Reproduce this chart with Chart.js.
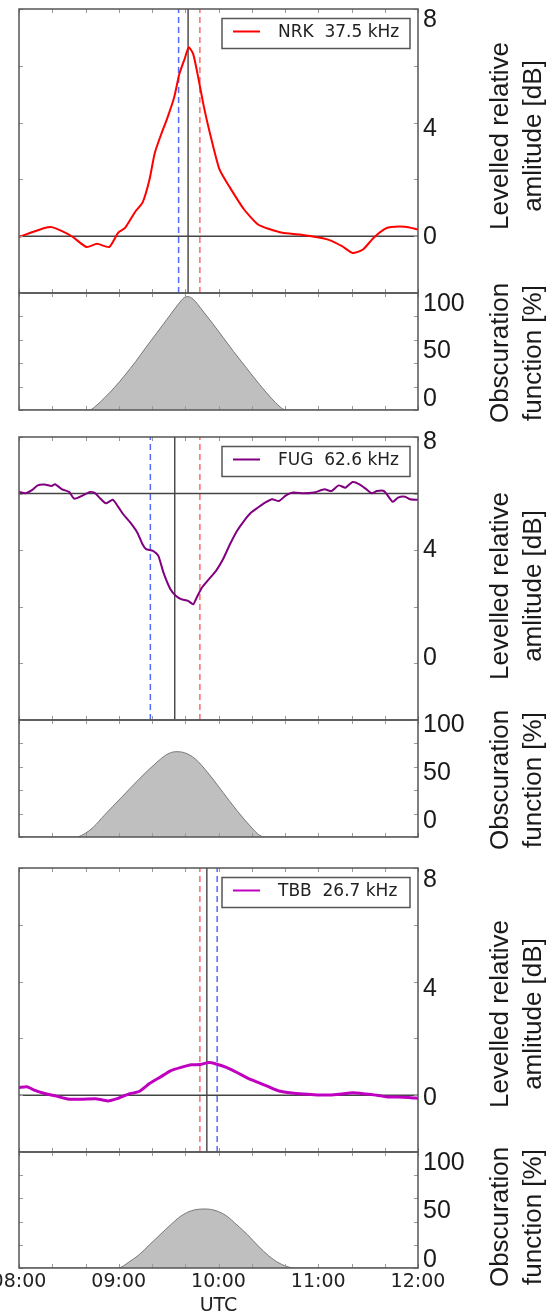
<!DOCTYPE html>
<html>
<head>
<meta charset="utf-8">
<script src="https://cdn.jsdelivr.net/npm/chart.js"></script>
<style>
  html, body { margin: 0; padding: 0; background: #fff; }
  body { width: 548px; height: 1316px; position: relative; overflow: hidden; }
  canvas { position: absolute; }
</style>
</head>
<body>
<script>
// minutes after 08:00 UTC, levelled amplitude in dB
const nrkTime = [0, 6.9, 15.4, 19.6, 25.9, 32.2, 40.6, 46.9, 54.3, 59.6, 63.8, 70.1, 74.3, 78.5, 81.7, 85.9, 89.0, 93.3, 96.4, 99.6, 102.1, 104.8, 108.0, 111.1, 114.3, 120.6, 126.9, 135.4, 143.8, 150.1, 158.5, 169.0, 177.5, 185.9, 194.3, 200.6, 206.9, 213.2, 219.6, 223.8, 232.2, 240];
const nrkAmp = [-0.03, 0.12, 0.29, 0.32, 0.18, -0.02, -0.38, -0.27, -0.38, 0.12, 0.29, 0.88, 1.18, 2.0, 2.94, 3.65, 4.12, 4.88, 5.7, 6.24, 6.65, 6.41, 5.53, 4.59, 3.76, 2.35, 1.71, 0.94, 0.41, 0.26, 0.12, 0.06, -0.02, -0.12, -0.35, -0.59, -0.47, -0.06, 0.24, 0.32, 0.33, 0.24];

const fugTime = [0, 3.8, 8.0, 11.2, 15.4, 19.6, 21.7, 25.9, 30.1, 33.3, 38.5, 42.7, 45.9, 49.0, 52.2, 56.4, 59.6, 62.7, 66.9, 71.2, 74.3, 76.4, 80.6, 83.8, 86.9, 91.1, 94.3, 97.5, 101.7, 104.8, 106.9, 110.1, 114.3, 118.5, 122.7, 126.9, 131.1, 135.4, 139.6, 143.8, 148.0, 152.2, 156.4, 160.6, 164.8, 171.1, 177.5, 183.8, 188.0, 192.2, 196.4, 200.6, 204.8, 209.0, 212.2, 215.3, 219.6, 224.8, 228.0, 232.2, 235.3, 240];
const fugAmp = [6.06, 6.01, 6.13, 6.29, 6.32, 6.27, 6.33, 6.15, 6.06, 5.82, 5.94, 6.06, 6.01, 5.82, 5.66, 5.78, 5.54, 5.27, 4.98, 4.62, 4.21, 4.04, 3.98, 3.80, 3.21, 2.62, 2.39, 2.27, 2.21, 2.09, 2.33, 2.68, 2.98, 3.27, 3.68, 4.21, 4.68, 5.04, 5.33, 5.51, 5.68, 5.80, 5.74, 5.94, 6.04, 6.01, 6.04, 6.15, 6.09, 6.29, 6.21, 6.41, 6.33, 6.15, 6.01, 6.09, 6.09, 5.71, 5.86, 5.89, 5.80, 5.78];

const tbbTime = [0, 4.8, 9.1, 15.4, 21.7, 30.1, 38.5, 46.9, 53.3, 59.6, 65.9, 72.2, 78.5, 84.8, 91.1, 97.5, 103.8, 109.0, 114.3, 118.5, 124.8, 131.1, 137.5, 143.8, 150.1, 156.4, 162.7, 171.1, 179.6, 188.0, 194.3, 200.6, 209.0, 215.3, 221.7, 228.0, 234.3, 240];
const tbbAmp = [0.27, 0.30, 0.18, 0.06, -0.02, -0.14, -0.14, -0.13, -0.20, -0.11, 0.04, 0.13, 0.41, 0.63, 0.86, 0.98, 1.07, 1.08, 1.15, 1.10, 0.98, 0.80, 0.60, 0.45, 0.30, 0.15, 0.09, 0.04, 0.01, 0.01, 0.04, 0.09, 0.04, 0.00, -0.06, -0.06, -0.08, -0.11];

// obscuration function [%]
const obsNrkTime = [0, 42.3, 46.9, 51.2, 57.5, 63.8, 70.1, 76.4, 82.7, 89.0, 95.4, 99.6, 101.7, 104.8, 110.1, 116.4, 122.7, 129.1, 135.4, 141.7, 148.0, 154.3, 158.5, 160.6, 240];
const obsNrkVal = [0, 0, 4.3, 10, 19.4, 29.9, 41.3, 53.6, 65.5, 77.5, 89.7, 96.3, 96.9, 94.6, 85.5, 74.1, 62.1, 49.9, 38.5, 27.1, 16.2, 6.3, 1.1, 0, 0];
const obsFugTime = [0, 34.3, 38.5, 44.8, 51.2, 61.7, 72.2, 82.7, 89.0, 94.3, 99.6, 105.9, 114.3, 122.7, 131.1, 139.6, 144.8, 148.0, 240];
const obsFugVal = [0, 0, 2, 8.5, 18.4, 33.9, 49.4, 63.6, 70.6, 72.9, 72.0, 66.9, 53.7, 38.1, 22.6, 8.5, 1.4, 0, 0];
const obsTbbTime = [0, 59.6, 65.9, 72.2, 78.5, 84.8, 91.1, 97.5, 103.8, 111.8, 118.5, 124.8, 131.1, 137.5, 143.8, 150.1, 156.4, 162.7, 165.9, 240];
const obsTbbVal = [0, 0, 4.9, 11.4, 20, 28.6, 37.1, 44.9, 49.4, 50.9, 49.4, 44.9, 37.1, 28.6, 19.1, 10.6, 4.3, 0.6, 0, 0];

// marker times [blue dashed, black, red dashed]
const nrkMarkers = [96.0, 101.7, 108.8];
const fugMarkers = [79.0, 93.7, 108.8];
const tbbMarkers = [119.2, 113.0, 108.8];
const refLevels = [0, 6, 0];

const ampRange = [-2, 8];
const ampTicks = [-2, 0, 2, 4, 6, 8];
const ampLabels = [0, 4, 8];
const obsTicks = [0, 20, 40, 60, 80, 100];
const obsLabels = [0, 50, 100];
const timeTicks = [0, 20, 40, 60, 80, 100, 120, 140, 160, 180, 200, 220, 240];
const timeLabels = ['08:00', '09:00', '10:00', '11:00', '12:00'];

const SHIFT = 30;     // canvases start left of the page so "08:00" is cut like the original
const CANVAS_W = 578;
const PAD = 24;
const PLOT_LEFT = 19;
const PLOT_RIGHT = 418;
const AXIS_W = CANVAS_W - SHIFT - PLOT_RIGHT;

const groups = [
  { label: 'NRK  37.5 kHz', color: '#ff0000', width: 2, time: nrkTime, amp: nrkAmp, markers: nrkMarkers, ref: refLevels[0],
    obsTime: obsNrkTime, obsVal: obsNrkVal, ampBox: [9, 293], obsBox: [293, 410],
    ampLabelRange: [-2.04, 8.40], obsLabelRange: [-11.6, 111.6], ampTitleY: 136, obsTitleY: 353 },
  { label: 'FUG  62.6 kHz', color: '#800080', width: 2, time: fugTime, amp: fugAmp, markers: fugMarkers, ref: refLevels[1],
    obsTime: obsFugTime, obsVal: obsFugVal, ampBox: [437, 720], obsBox: [720, 837],
    ampLabelRange: [-2.3, 8.19], obsLabelRange: [-16.7, 105.2], ampTitleY: 586, obsTitleY: 780 },
  { label: 'TBB  26.7 kHz', color: '#c000c0', width: 3, time: tbbTime, amp: tbbAmp, markers: tbbMarkers, ref: refLevels[2],
    obsTime: obsTbbTime, obsVal: obsTbbVal, ampBox: [868, 1152], obsBox: [1152, 1268],
    ampLabelRange: [-1.98, 8.44], obsLabelRange: [-8.2, 111.3], ampTitleY: 1014, obsTitleY: 1217 }
];

function pairs(xs, ys) {
  return xs.map((x, i) => ({ x: x, y: ys[i] }));
}

function vline(t, color, dash, width) {
  return { data: [{ x: t, y: ampRange[0] }, { x: t, y: ampRange[1] }],
    borderColor: color, borderDash: dash, borderWidth: width, pointRadius: 0 };
}

function makeCanvas(top, height) {
  const c = document.createElement('canvas');
  c.width = CANVAS_W;
  c.height = height;
  c.style.left = -SHIFT + 'px';
  c.style.top = top + 'px';
  c.style.width = CANVAS_W + 'px';
  c.style.height = height + 'px';
  document.body.appendChild(c);
  return c;
}

// frame, inward ticks, boxed legend and the rotated side title
const framePlugin = {
  id: 'frame',
  afterDatasetsDraw(chart, args, opts) {
    const { ctx, chartArea: a, scales } = chart;
    ctx.save();
    ctx.strokeStyle = '#999';
    ctx.lineWidth = 1;
    ctx.beginPath();
    timeTicks.forEach(v => {
      const x = Math.round(scales.x.getPixelForValue(v)) + 0.5;
      ctx.moveTo(x, a.top); ctx.lineTo(x, a.top + 4);
      ctx.moveTo(x, a.bottom); ctx.lineTo(x, a.bottom - 4);
    });
    opts.yTicks.forEach(v => {
      const y = Math.round(scales.y.getPixelForValue(v)) + 0.5;
      ctx.moveTo(a.left, y); ctx.lineTo(a.left + 4, y);
      ctx.moveTo(a.right, y); ctx.lineTo(a.right - 4, y);
    });
    ctx.stroke();
    ctx.strokeStyle = '#555';
    ctx.lineWidth = 1.5;
    ctx.strokeRect(a.left, a.top, a.right - a.left, a.bottom - a.top);

    if (opts.legend) {
      const ds = chart.data.datasets[0];
      const x0 = a.right - 196, y0 = a.top + 9.5;
      ctx.fillStyle = '#fff';
      ctx.fillRect(x0, y0, 188, 30);
      ctx.strokeStyle = '#555';
      ctx.strokeRect(x0, y0, 188, 30);
      ctx.strokeStyle = ds.borderColor;
      ctx.lineWidth = 2;
      ctx.beginPath();
      ctx.moveTo(x0 + 11, y0 + 13); ctx.lineTo(x0 + 38, y0 + 13);
      ctx.stroke();
      ctx.fillStyle = '#222';
      ctx.font = '17px "DejaVu Sans"';
      ctx.textAlign = 'left';
      ctx.textBaseline = 'middle';
      ctx.fillText(ds.label, x0 + 56, y0 + 14);
    }

    ctx.fillStyle = '#1a1a1a';
    ctx.font = '26px "Liberation Sans"';
    ctx.textAlign = 'center';
    ctx.textBaseline = 'middle';
    opts.title.forEach((line, i) => {
      ctx.save();
      ctx.translate(501 + 33 * i + SHIFT, opts.titleY - opts.canvasTop);
      ctx.rotate(-Math.PI / 2);
      ctx.fillText(line, 0, 0);
      ctx.restore();
    });
    ctx.restore();
  }
};

function labelAxis(range, labels) {
  return {
    position: 'right',
    min: range[0],
    max: range[1],
    afterBuildTicks: s => { s.ticks = labels.map(v => ({ value: v })); },
    afterFit: s => { s.width = AXIS_W; },
    grid: { display: false, drawTicks: false },
    border: { display: false },
    ticks: { padding: 5, color: '#1a1a1a', font: { family: 'Liberation Sans', size: 25 } }
  };
}

function ampChart(g) {
  const top = g.ampBox[0] - PAD;
  const canvas = makeCanvas(top, g.ampBox[1] - g.ampBox[0] + 2 * PAD);
  return new Chart(canvas, {
    type: 'line',
    data: {
      datasets: [
        { label: g.label, data: pairs(g.time, g.amp), borderColor: g.color, borderWidth: g.width,
          tension: 0.2, pointRadius: 0 },
        { data: [{ x: 0, y: g.ref }, { x: 240, y: g.ref }], borderColor: '#444', borderWidth: 1.5, pointRadius: 0 },
        vline(g.markers[1], '#222', [], 1.2),
        vline(g.markers[0], 'rgba(50,80,255,0.85)', [6, 4], 1.5),
        vline(g.markers[2], 'rgba(255,80,80,0.85)', [6, 4], 1.5)
      ]
    },
    options: {
      responsive: false,
      animation: false,
      layout: { padding: { left: PLOT_LEFT + SHIFT, right: 0, top: PAD, bottom: PAD } },
      plugins: {
        legend: { display: false },
        tooltip: { enabled: false },
        frame: { yTicks: ampTicks, legend: true, title: ['Levelled relative', 'amlitude [dB]'],
                 titleY: g.ampTitleY, canvasTop: top }
      },
      scales: {
        x: { type: 'linear', min: 0, max: 240, display: false },
        y: { min: ampRange[0], max: ampRange[1], display: false },
        yl: labelAxis(g.ampLabelRange, ampLabels)
      }
    },
    plugins: [framePlugin]
  });
}

function obsChart(g, last) {
  const top = g.obsBox[0] - PAD;
  const height = last ? 1316 - top : g.obsBox[1] - g.obsBox[0] + 2 * PAD;
  const canvas = makeCanvas(top, height);
  const xAxis = last ? {
    type: 'linear', min: 0, max: 240, position: 'bottom',
    afterFit: s => { s.height = 1316 - g.obsBox[1]; },
    grid: { display: false, drawTicks: false },
    border: { display: false },
    ticks: { stepSize: 60, autoSkip: false, maxRotation: 0, padding: 3, color: '#222',
             font: { family: 'DejaVu Sans', size: 19 }, callback: (v, i) => timeLabels[i] },
    title: { display: true, text: 'UTC', color: '#222', padding: { top: 0, bottom: 0 },
             font: { family: 'DejaVu Sans', size: 19, lineHeight: 1 } }
  } : { type: 'linear', min: 0, max: 240, display: false };
  return new Chart(canvas, {
    type: 'line',
    data: {
      datasets: [
        { data: pairs(g.obsTime, g.obsVal), fill: 'origin', backgroundColor: '#bfbfbf',
          borderColor: '#777', borderWidth: 1, pointRadius: 0, cubicInterpolationMode: 'monotone' }
      ]
    },
    options: {
      responsive: false,
      animation: false,
      layout: { padding: { left: PLOT_LEFT + SHIFT, right: 0, top: PAD, bottom: last ? 0 : PAD } },
      plugins: {
        legend: { display: false },
        tooltip: { enabled: false },
        frame: { yTicks: obsTicks, legend: false, title: ['Obscuration', 'function [%]'],
                 titleY: g.obsTitleY, canvasTop: top }
      },
      scales: {
        x: xAxis,
        y: { min: 0, max: 100, display: false },
        yl: labelAxis(g.obsLabelRange, obsLabels)
      }
    },
    plugins: [framePlugin]
  });
}

groups.forEach((g, i) => {
  ampChart(g);
  obsChart(g, i === groups.length - 1);
});
</script>
</body>
</html>
